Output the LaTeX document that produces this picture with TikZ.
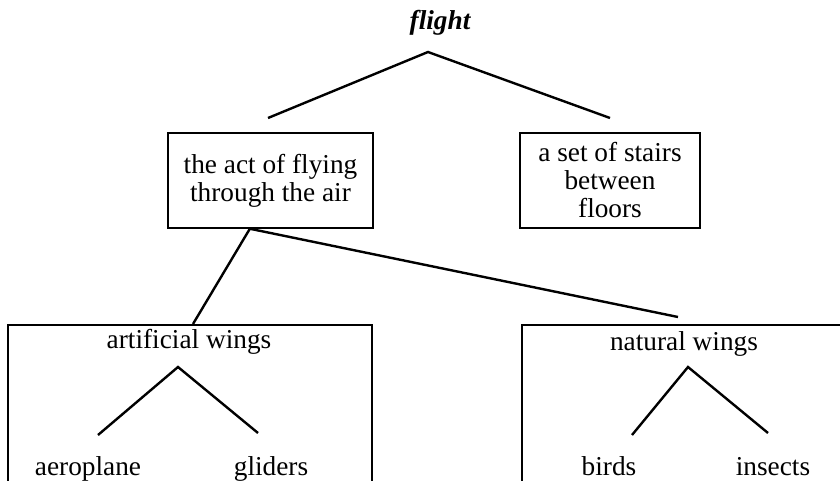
\documentclass[tikz,border=0pt]{standalone}
\usepackage{fontspec}
\setmainfont{Liberation Serif}
\usetikzlibrary{calc}
\begin{document}
\begin{tikzpicture}[x=1pt,y=-1pt,
  every node/.style={font=\fontsize{27.3}{28}\selectfont, inner sep=0pt},
  box/.style={draw, line width=1.5pt, align=center},
  link/.style={line width=2.4pt},
  word/.style={anchor=base}]
\useasboundingbox (0,0) rectangle (840,481);
\clip (0,0) rectangle (840,481);

% title and its two senses
\node[word, font=\fontsize{27.3}{28}\selectfont\bfseries\itshape] (flight) at (440,30) {flight};
\coordinate (top) at (428,52);
\coordinate (topL) at (268,118);
\coordinate (topR) at (610,118);
\draw[link] (topL) -- (top) -- (topR);

\node[box, minimum width=205pt, minimum height=95pt] (act) at (270.5,180.5)
  {the act of flying\\[0pt]through the air};
\node[box, minimum width=180pt, minimum height=95pt] (stairs) at (610,180.5)
  {a set of stairs\\between\\floors};

% the two kinds of wings
\node[box, anchor=north west, minimum width=364pt, minimum height=220pt] (art) at (7,324) {};
\node[box, anchor=north west, minimum width=400pt, minimum height=220pt] (nat) at (521,324) {};

\coordinate (actfoot) at ($(act.south west)!0.40!(act.south east)$);
\coordinate (artneck) at (193,324);
\coordinate (natneck) at (678,317);
\draw[link] (actfoot) -- (artneck);
\draw[link] (actfoot) -- (natneck);

% artificial wings
\node[word] (artlab) at (189,348) {artificial wings};
\coordinate (artTop) at (178,367);
\coordinate (artL) at (98,435);
\coordinate (artR) at (258,433);
\draw[link] (artL) -- (artTop) -- (artR);
\node[word] (plane) at (88,475) {aeroplane};
\node[word] (glider) at (271,475) {gliders};

% natural wings
\node[word] (natlab) at (684,350) {natural wings};
\coordinate (natTop) at (688,367);
\coordinate (natL) at (632,435);
\coordinate (natR) at (768,433);
\draw[link] (natL) -- (natTop) -- (natR);
\node[word] (birds) at (609,475) {birds};
\node[word] (insects) at (773,475) {insects};
\end{tikzpicture}
\end{document}
